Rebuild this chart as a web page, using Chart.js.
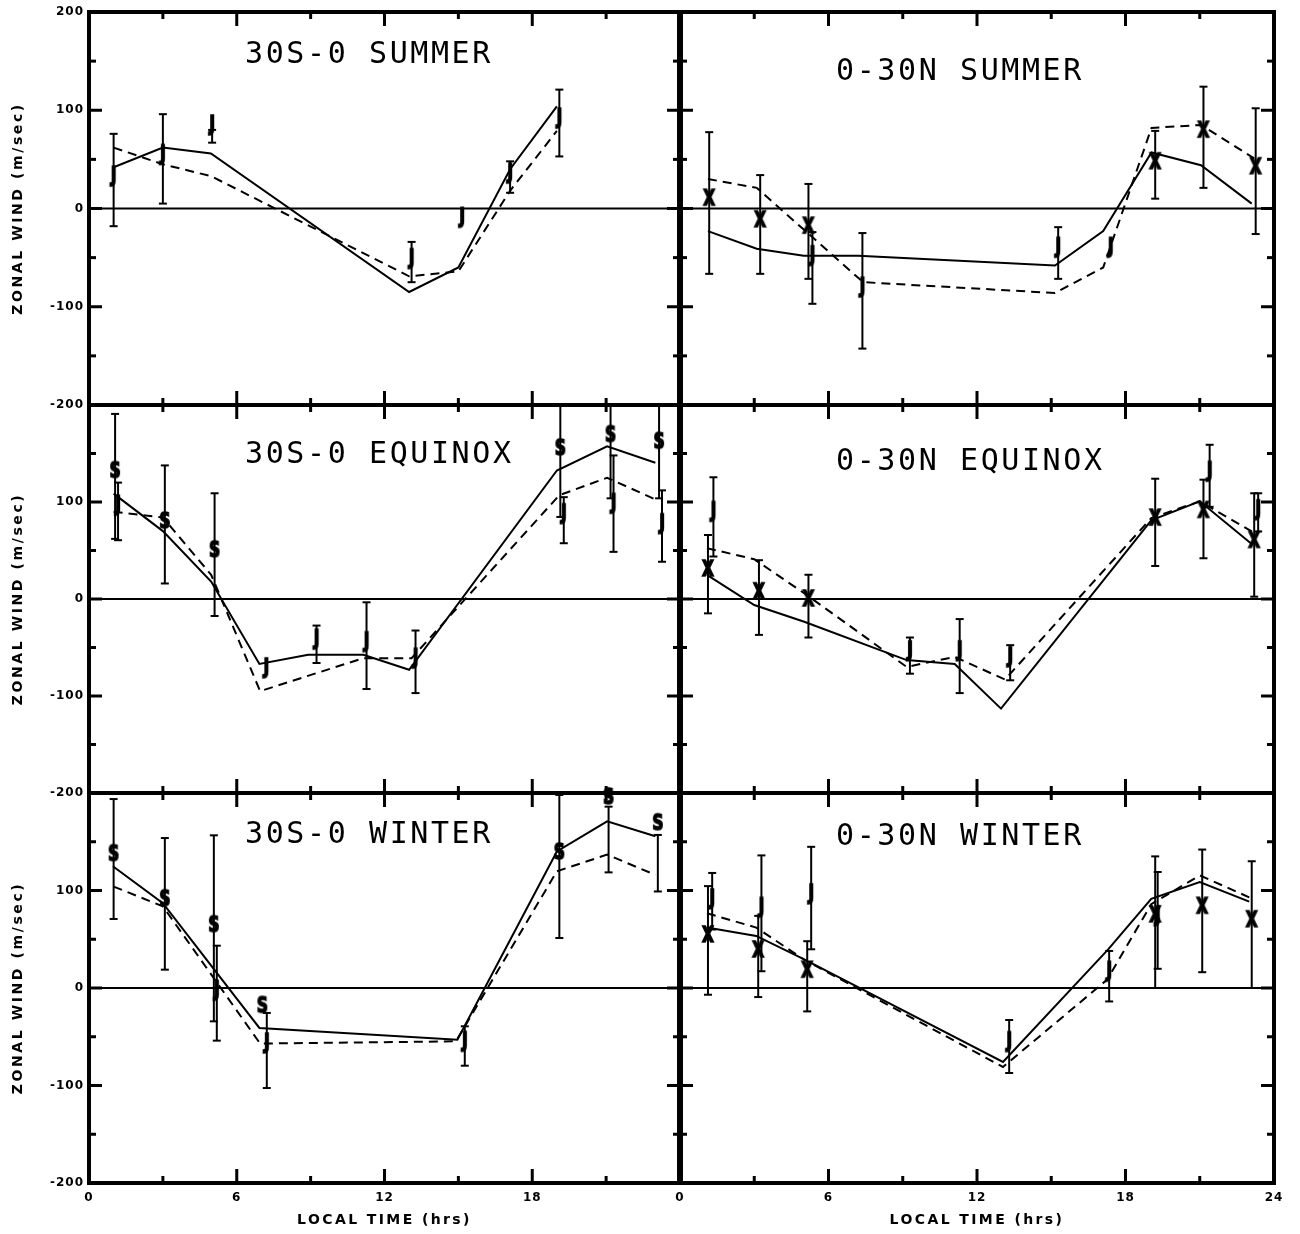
<!DOCTYPE html>
<html>
<head>
<meta charset="utf-8">
<title>Zonal wind vs local time</title>
<script src="https://cdn.jsdelivr.net/npm/chart.js@4/dist/chart.umd.min.js"></script>
<style>
  html, body { margin: 0; padding: 0; background: #fff; }
  #wrap { position: relative; width: 1300px; height: 1234px; overflow: hidden; }
  #wrap canvas { position: absolute; }
</style>
</head>
<body>
<div id="wrap"></div>
<script>
// [hour, wind] pairs for the solid and dashed curves, marks are [letter, hour, wind, low, high]
const sumS_solid = [[1.0, 42], [3.0, 62], [4.95, 56], [13.0, -85], [15.0, -60], [17.1, 40], [19.0, 104]];
const sumS_dash = [[1.0, 62], [3.0, 45], [4.95, 33], [13.0, -69], [15.0, -64], [17.1, 18], [19.0, 79]];
const sumS_marks = [['J', 1.0, 33, -18, 76], ['J', 3.0, 55, 5, 96], ['J', 5.0, 85, 67, 80], ['J', 13.1, -51, -75, -34],
  ['J', 15.15, -9, null, null], ['J', 17.1, 36, 16, 48], ['J', 19.1, 92, 53, 121]];

const sumN_solid = [[1.13, -23], [3.1, -41], [5.0, -48], [7.2, -48], [15.15, -58], [17.1, -23], [19.05, 57], [21.05, 44], [23.1, 5]];
const sumN_dash = [[1.13, 30], [3.1, 21], [7.4, -75], [15.15, -86], [17.1, -60], [19.05, 82], [21.05, 85], [23.2, 51]];
const sumN_marks = [['X', 1.18, 9.5, -66.5, 77.7], ['X', 3.24, -12.5, -66.5, 34], ['X', 5.19, -19, -71.6, 25],
  ['J', 5.35, -48, -97, -24], ['J', 7.37, -80, -142.6, -25], ['J', 15.28, -39.5, -71.6, -19], ['J', 17.4, -39.5, null, null],
  ['X', 19.2, 46.6, 10, 79], ['X', 21.15, 78.7, 21, 124], ['X', 23.26, 41.5, -26, 102]];

const eqS_solid = [[1.0, 108.6], [3.0, 70], [4.96, 18], [6.92, -67], [8.9, -57.5], [11.14, -57.5], [13.0, -73],
  [19.0, 132.5], [21.04, 157.5], [23.0, 140.4]];
const eqS_dash = [[1.0, 90], [3.0, 84], [4.96, 25], [6.95, -95], [11.14, -61], [13.1, -61], [19.1, 107], [21.04, 125], [23.06, 102]];
const eqS_marks = [['S', 1.06, 131.5, 62, 190.8], ['J', 1.18, 96.6, 60.6, 120], ['S', 3.08, 79.5, 16, 137.7],
  ['S', 5.1, 49.7, -17.5, 109], ['J', 7.2, -71, null, null], ['J', 9.24, -41.4, -66, -27.4], ['J', 11.27, -44, -92.8, -3.4],
  ['J', 13.26, -61, -97, -32.5], ['S', 19.14, 154.8, 84.6, 230], ['J', 19.28, 88, 57.5, 105], ['S', 21.18, 168.5, 103.8, 230],
  ['J', 21.3, 98.6, 48.6, 148], ['S', 23.15, 161.6, 103.8, 230], ['J', 23.27, 77.7, 38.4, 112]];

const eqN_solid = [[1.09, 24.8], [3.0, -6.2], [5.02, -23.4], [9.16, -63], [11.1, -67], [12.97, -113], [19.04, 81], [21.0, 100.7], [23.1, 56.6]];
const eqN_dash = [[1.09, 52.4], [3.0, 41], [5.02, 5.9], [9.16, -70], [11.1, -59.7], [13.13, -83], [19.04, 83.4], [21.0, 100.7], [23.1, 69.7]];
const eqN_marks = [['X', 1.13, 30, -14.8, 66], ['J', 1.35, 90.3, 43.8, 125.5], ['X', 3.19, 6.5, -37, 40], ['X', 5.19, -1, -39.7, 25],
  ['J', 9.29, -53.4, -77, -39.7], ['J', 11.3, -53.4, -97, -20.7], ['J', 13.34, -59.7, -83.8, -47.6], ['X', 19.2, 82.4, 34, 124],
  ['J', 21.4, 131.7, 95, 159], ['X', 21.15, 90.3, 42, 123], ['X', 23.2, 59.3, 2.4, 109], ['J', 23.36, 92, 69.6, 109]];

const winS_solid = [[0.97, 124.8], [3.0, 87], [6.92, -41], [14.96, -53], [19.0, 140], [21.04, 171], [23.0, 155.6]];
const winS_dash = [[1.0, 104], [3.0, 83.8], [6.95, -57], [14.9, -54.7], [19.0, 119.7], [21.04, 136.8], [23.0, 116]];
const winS_marks = [['S', 1.0, 136.8, 70.8, 193.8], ['S', 3.08, 90.6, 18.8, 153.8], ['S', 5.07, 64, -34.2, 156.6],
  ['J', 5.19, -2.4, -54, 43.4], ['S', 7.04, -18.8, null, null], ['J', 7.22, -56.4, -102.6, -25.6], ['J', 15.26, -54.7, -79.7, -39.3],
  ['S', 19.1, 138.5, 51.3, 198], ['S', 21.1, 195, 118.6, 186], ['S', 23.1, 168.5, 99, 157]];

const winN_solid = [[1.09, 62], [3.08, 53.4], [5.02, 29.3], [13.05, -75.9], [17.3, 39.6], [19.04, 91.4], [21.0, 108.6], [23.0, 88.6]];
const winN_dash = [[1.09, 76.6], [3.08, 62], [5.02, 29], [13.05, -81], [17.26, 8.6], [19.04, 86], [21.0, 115.5], [23.0, 93]];
const winN_marks = [['X', 1.13, 53.4, -6.9, 104.5], ['J', 1.3, 91.4, 60, 118], ['X', 3.16, 38, -9.3, 74], ['J', 3.29, 82.8, 17.2, 136],
  ['X', 5.14, 17.2, -24, 48], ['J', 5.3, 96.6, 39.7, 144.8], ['J', 13.3, -55, -87.2, -32.8], ['J', 17.34, 17.2, -13.8, 38],
  ['X', 19.2, 74, 0, 135], ['J', 19.3, 74, 19.7, 119], ['X', 21.1, 82.8, 16.2, 142], ['X', 23.1, 69, 0, 130]];

const titles = ['30S-0 SUMMER', '0-30N SUMMER', '30S-0 EQUINOX', '0-30N EQUINOX', '30S-0 WINTER', '0-30N WINTER'];
const yTickLabels = ['200', '100', '0', '-100', '-200'];
const xTickLabels = ['0', '6', '12', '18', '24'];
const yTitle = 'ZONAL WIND (m/sec)';
const xTitle = 'LOCAL TIME (hrs)';

// layout (pixels)
const colX = [[89, 680], [680, 1274]];
const rowY = [[12, 405], [405, 793], [793, 1183]];
const titleDy = [43, 60, 50, 57, 42, 44];

function letterImage(ch) {
  const c = document.createElement('canvas');
  c.width = 22; c.height = 26;
  const g = c.getContext('2d');
  g.fillStyle = '#000';
  g.strokeStyle = '#000';
  g.lineWidth = 1.6;
  g.font = 'bold 22px "DejaVu Sans"';
  g.textAlign = 'center';
  g.textBaseline = 'middle';
  g.translate(11, 12);
  g.scale(0.7, 1);
  g.fillText(ch, 0, 1);
  g.strokeText(ch, 0, 1);
  return c;
}
const letters = { J: letterImage('J'), S: letterImage('S'), X: letterImage('X') };

function seg(ctx, x1, y1, x2, y2) {
  ctx.beginPath();
  ctx.moveTo(x1, y1);
  ctx.lineTo(x2, y2);
  ctx.stroke();
}

const panelPlugin = {
  id: 'panel',
  beforeDatasetsDraw(chart, args, o) {
    const { ctx, chartArea: a, scales: { x, y } } = chart;
    ctx.save();
    ctx.strokeStyle = '#000';
    ctx.lineWidth = 2;
    const y0 = y.getPixelForValue(0);
    seg(ctx, a.left, y0, a.right, y0);
    ctx.beginPath();
    ctx.rect(a.left, a.top, a.width, a.height);
    ctx.clip();
    o.marks.forEach(m => {
      if (m[3] == null) return;
      const px = x.getPixelForValue(m[1]);
      const lo = y.getPixelForValue(m[3]);
      const hi = y.getPixelForValue(m[4]);
      seg(ctx, px, lo, px, hi);
      seg(ctx, px - 4, lo, px + 4, lo);
      seg(ctx, px - 4, hi, px + 4, hi);
    });
    ctx.restore();
  },
  afterDraw(chart, args, o) {
    const { ctx, chartArea: a, scales: { x, y } } = chart;
    ctx.save();
    ctx.strokeStyle = '#000';
    ctx.fillStyle = '#000';

    // ticks pointing inward on every side
    ctx.lineWidth = 3;
    for (let v = -150; v <= 150; v += 50) {
      const py = y.getPixelForValue(v);
      const len = v % 100 === 0 ? 13 : 7;
      seg(ctx, a.left, py, a.left + len, py);
      seg(ctx, a.right - len, py, a.right, py);
    }
    for (let h = 3; h <= 21; h += 3) {
      const px = x.getPixelForValue(h);
      const len = h % 6 === 0 ? 14 : 7;
      seg(ctx, px, a.top, px, a.top + len);
      seg(ctx, px, a.bottom - len, px, a.bottom);
    }

    // frame
    ctx.lineWidth = 4;
    ctx.strokeRect(a.left, a.top, a.width, a.height);
    if (o.col === 0) {
      ctx.lineWidth = 6;
      seg(ctx, a.right, a.top - 2, a.right, a.bottom + 2);
    }

    // y tick labels and title on the left column
    if (o.col === 0) {
      ctx.font = 'bold 12px "DejaVu Sans"';
      ctx.letterSpacing = '1px';
      ctx.textAlign = 'right';
      ctx.textBaseline = 'middle';
      yTickLabels.forEach(t => {
        if (t === '200' && o.row !== 0) return;
        ctx.fillText(t, a.left - 5, y.getPixelForValue(Number(t)));
      });
      ctx.save();
      ctx.font = 'bold 14px "DejaVu Sans"';
      ctx.letterSpacing = '2.6px';
      ctx.textAlign = 'center';
      ctx.translate(18, (a.top + a.bottom) / 2);
      ctx.rotate(-Math.PI / 2);
      ctx.fillText(yTitle, 0, 0);
      ctx.restore();
    }

    // x tick labels and title on the bottom row
    if (o.row === 2) {
      ctx.font = 'bold 12px "DejaVu Sans"';
      ctx.letterSpacing = '1px';
      ctx.textAlign = 'center';
      ctx.textBaseline = 'middle';
      xTickLabels.forEach(t => {
        if (t === '24' && o.col === 0) return;
        ctx.fillText(t, x.getPixelForValue(Number(t)), a.bottom + 15);
      });
      ctx.font = 'bold 14px "DejaVu Sans"';
      ctx.letterSpacing = '2.4px';
      ctx.fillText(xTitle, (a.left + a.right) / 2, a.bottom + 37);
    }

    // panel title
    ctx.font = '30px "DejaVu Sans Mono"';
    ctx.letterSpacing = '2.6px';
    ctx.textAlign = 'left';
    ctx.textBaseline = 'middle';
    ctx.fillText(o.title, a.left + 156, a.top + o.titleDy);
    ctx.restore();
  }
};

const panels = [
  [sumS_solid, sumS_dash, sumS_marks],
  [sumN_solid, sumN_dash, sumN_marks],
  [eqS_solid, eqS_dash, eqS_marks],
  [eqN_solid, eqN_dash, eqN_marks],
  [winS_solid, winS_dash, winS_marks],
  [winN_solid, winN_dash, winN_marks]
];

const wrap = document.getElementById('wrap');

panels.forEach(([solid, dash, marks], i) => {
  const col = i % 2, row = Math.floor(i / 2);
  const pad = {
    left: col === 0 ? 89 : 20,
    right: col === 1 ? 26 : 20,
    top: row === 0 ? 12 : 20,
    bottom: row === 2 ? 51 : 20
  };
  const cv = document.createElement('canvas');
  const w = colX[col][1] - colX[col][0] + pad.left + pad.right;
  const h = rowY[row][1] - rowY[row][0] + pad.top + pad.bottom;
  cv.width = w;
  cv.height = h;
  cv.style.left = (colX[col][0] - pad.left) + 'px';
  cv.style.top = (rowY[row][0] - pad.top) + 'px';
  cv.style.width = w + 'px';
  cv.style.height = h + 'px';
  wrap.appendChild(cv);

  new Chart(cv, {
    type: 'scatter',
    data: {
      datasets: [
        {
          data: solid.map(p => ({ x: p[0], y: p[1] })),
          showLine: true, borderColor: '#000', borderWidth: 2, pointRadius: 0
        },
        {
          data: dash.map(p => ({ x: p[0], y: p[1] })),
          showLine: true, borderColor: '#000', borderWidth: 2, borderDash: [9, 6], pointRadius: 0
        },
        {
          data: marks.map(m => ({ x: m[1], y: m[2] })),
          showLine: false, clip: false,
          pointStyle: c => letters[marks[c.dataIndex][0]],
          pointRadius: 8
        }
      ]
    },
    options: {
      responsive: false,
      animation: false,
      events: [],
      layout: { padding: pad },
      scales: {
        x: { type: 'linear', min: 0, max: 24, display: false },
        y: { type: 'linear', min: -200, max: 200, display: false }
      },
      plugins: {
        legend: { display: false },
        tooltip: { enabled: false },
        panel: { col, row, marks, title: titles[i], titleDy: titleDy[i] }
      }
    },
    plugins: [panelPlugin]
  });
});
</script>
</body>
</html>
